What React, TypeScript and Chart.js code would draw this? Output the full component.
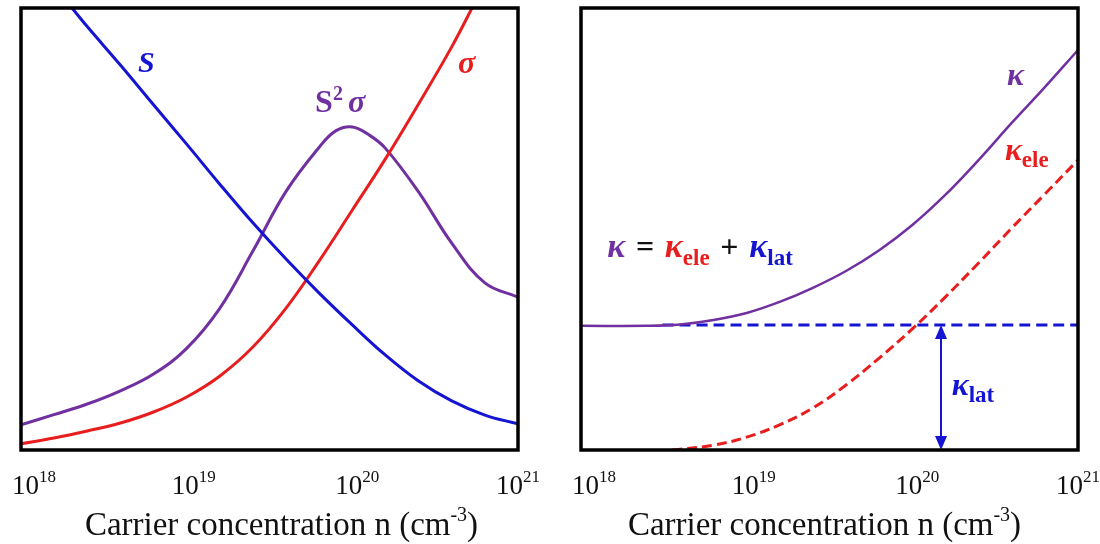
import React, { useEffect, useRef } from "react";
import { Chart, registerables } from "chart.js";
Chart.register(...registerables);

// ---------- Data (x = carrier concentration, y = arbitrary units 0..100) ----------
const seebeckN = [1.78e18, 2e18, 2.51e18, 3.98e18, 6.31e18, 1e19, 1.58e19, 2.51e19, 3.98e19, 6.31e19, 1e20, 1.58e20, 2.51e20, 3.98e20, 6.31e20, 1e21];
const seebeckS = [102.5, 100.3, 95.8, 87.1, 78.1, 69.2, 60.2, 51.4, 43.2, 35.5, 28.3, 21.5, 15.6, 11.1, 7.9, 5.9];

const sigmaN = [1e18, 1.58e18, 2.51e18, 3.98e18, 6.31e18, 1e19, 1.58e19, 2.51e19, 3.98e19, 6.31e19, 1e20, 1.58e20, 2.51e20, 3.98e20, 5.62e20];
const sigmaVal = [1.4, 2.7, 4.3, 6.1, 8.6, 12.0, 16.7, 23.3, 32.1, 42.8, 54.3, 65.8, 78.3, 91.2, 102.0];

const pfN = [1e18, 1.58e18, 2.51e18, 3.98e18, 6.31e18, 1e19, 1.58e19, 2.51e19, 3.98e19, 6.31e19, 7.94e19, 1e20, 1.26e20, 1.58e20, 2.51e20, 3.98e20, 6.31e20, 1e21];
const pfVal = [5.7, 8.0, 10.4, 13.4, 17.2, 23.0, 32.0, 45.0, 58.5, 68.5, 72.2, 73.1, 71.3, 68.3, 58.4, 46.8, 37.8, 34.6];

const kappaN = [1e18, 2.51e18, 3.98e18, 6.31e18, 1e19, 1.58e19, 2.51e19, 3.98e19, 6.31e19, 1e20, 1.58e20, 2.51e20, 3.98e20, 6.31e20, 1e21];
const kappaVal = [28.1, 28.1, 28.4, 29.4, 31.0, 33.5, 36.7, 40.5, 45.2, 50.9, 57.7, 65.6, 74.0, 82.1, 90.5];

const kappaEleN = [3.55e18, 3.98e18, 6.31e18, 1e19, 1.58e19, 2.51e19, 3.98e19, 6.31e19, 1e20, 1.58e20, 2.51e20, 3.98e20, 6.31e20, 1e21];
const kappaEleVal = [0, 0.2, 1.1, 2.9, 5.7, 9.5, 14.7, 20.8, 27.4, 34.6, 42.3, 50.2, 57.9, 65.6];

const kappaLatN = [3.1e18, 1e21];
const kappaLatVal = [28.3, 28.3];

const arrowN = 1.49e20;
const arrowFrom = 28.3;
const arrowTo = 0;

const tickValues = [1e18, 1e19, 1e20, 1e21];
const tickExponents = ["18", "19", "20", "21"];
const axisTitleMain = "Carrier concentration n (cm";
const axisTitleSup = "-3";
const axisTitleEnd = ")";

// ---------- Styles ----------
const PURPLE = "#7030a0";
const RED = "#e81e1e";
const BLUE = "#1414d2";
const BLACK = "#111111";

const GREEK = "italic bold 32px 'Liberation Serif'";
const GREEK_EQ = "italic bold 34px 'Liberation Serif'";
const BOLD = "bold 32px 'Liberation Serif'";
const SUB = "bold 23px 'Liberation Serif'";
const SUP = "bold 20px 'Liberation Serif'";

type Seg = { t: string; c: string; f: string; dy?: number };
type Label = { n: number; v: number; segs: Seg[] };

const leftLabels: Label[] = [
  { n: 5.08e18, v: 85.5, segs: [{ t: "S", c: BLUE, f: "italic bold 30px 'Liberation Serif'" }] },
  {
    n: 5.96e19, v: 76.5, segs: [
      { t: "S", c: PURPLE, f: BOLD },
      { t: "2", c: PURPLE, f: SUP, dy: -12 },
      { t: " ", c: PURPLE, f: SUP },
      { t: "\u03c3", c: PURPLE, f: GREEK },
    ]
  },
  { n: 4.35e20, v: 85.3, segs: [{ t: "\u03c3", c: RED, f: GREEK }] },
];

const rightLabels: Label[] = [
  { n: 3.73e20, v: 82.6, segs: [{ t: "\u03ba", c: PURPLE, f: GREEK }] },
  { n: 3.62e20, v: 65.6, segs: [{ t: "\u03ba", c: RED, f: GREEK }, { t: "ele", c: RED, f: SUB, dy: 7 }] },
  { n: 1.73e20, v: 12.4, segs: [{ t: "\u03ba", c: BLUE, f: GREEK }, { t: "lat", c: BLUE, f: SUB, dy: 7 }] },
  {
    n: 1.44e18, v: 43.7, segs: [
      { t: "\u03ba", c: PURPLE, f: GREEK_EQ },
      { t: "\u2004=\u2004", c: BLACK, f: BOLD },
      { t: "\u03ba", c: RED, f: GREEK_EQ },
      { t: "ele", c: RED, f: SUB, dy: 8 },
      { t: "\u2004+\u2004", c: BLACK, f: BOLD },
      { t: "\u03ba", c: BLUE, f: GREEK_EQ },
      { t: "lat", c: BLUE, f: SUB, dy: 8 },
    ]
  },
];

const tickShift = [13, 7, 5, 0];

function pts(xs: number[], ys: number[]) {
  return xs.map((x, i) => ({ x, y: ys[i] }));
}

function drawSegs(ctx: CanvasRenderingContext2D, segs: Seg[], x: number, y: number) {
  let cx = x;
  for (const s of segs) {
    ctx.font = s.f;
    ctx.fillStyle = s.c;
    ctx.fillText(s.t, cx, y + (s.dy || 0));
    cx += ctx.measureText(s.t).width;
  }
}

function makePlugin(labels: Label[], titleShift: number, arrow: boolean) {
  return {
    id: "panelDecor",
    afterDatasetsDraw(chart: any) {
      const { ctx, chartArea: a } = chart;
      const xs = chart.scales.x;
      const ys = chart.scales.y;
      ctx.save();
      ctx.textBaseline = "alphabetic";
      ctx.textAlign = "left";

      if (arrow) {
        const ax = xs.getPixelForValue(arrowN);
        const y1 = ys.getPixelForValue(arrowFrom);
        const y2 = ys.getPixelForValue(arrowTo);
        ctx.strokeStyle = BLUE;
        ctx.fillStyle = BLUE;
        ctx.lineWidth = 2;
        ctx.beginPath();
        ctx.moveTo(ax, y1 + 10);
        ctx.lineTo(ax, y2 - 10);
        ctx.stroke();
        ctx.beginPath();
        ctx.moveTo(ax, y1);
        ctx.lineTo(ax - 6, y1 + 14);
        ctx.lineTo(ax + 6, y1 + 14);
        ctx.closePath();
        ctx.fill();
        ctx.beginPath();
        ctx.moveTo(ax, y2);
        ctx.lineTo(ax - 6, y2 - 14);
        ctx.lineTo(ax + 6, y2 - 14);
        ctx.closePath();
        ctx.fill();
      }

      for (const l of labels) {
        drawSegs(ctx, l.segs, xs.getPixelForValue(l.n), ys.getPixelForValue(l.v));
      }

      // frame
      ctx.strokeStyle = "#000";
      ctx.lineWidth = 3.5;
      ctx.strokeRect(a.left, a.top, a.right - a.left, a.bottom - a.top);

      // tick labels
      const mainF = "27px 'Liberation Serif'";
      const supF = "17px 'Liberation Serif'";
      tickValues.forEach((tv, i) => {
        ctx.font = mainF;
        const w1 = ctx.measureText("10").width;
        ctx.font = supF;
        const w2 = ctx.measureText(tickExponents[i]).width;
        const cx = xs.getPixelForValue(tv) + tickShift[i];
        const left = cx - (w1 + w2) / 2;
        ctx.fillStyle = "#111";
        ctx.font = mainF;
        ctx.fillText("10", left, a.bottom + 44);
        ctx.font = supF;
        ctx.fillText(tickExponents[i], left + w1, a.bottom + 32);
      });

      // axis title
      const tF = "33px 'Liberation Serif'";
      const tS = "20px 'Liberation Serif'";
      ctx.font = tF;
      const wa = ctx.measureText(axisTitleMain).width;
      const wc = ctx.measureText(axisTitleEnd).width;
      ctx.font = tS;
      const wb = ctx.measureText(axisTitleSup).width;
      const tcx = (a.left + a.right) / 2 + titleShift;
      const tl = tcx - (wa + wb + wc) / 2;
      const ty = a.bottom + 85;
      ctx.fillStyle = "#111";
      ctx.font = tF;
      ctx.fillText(axisTitleMain, tl, ty);
      ctx.font = tS;
      ctx.fillText(axisTitleSup, tl + wa, ty - 14);
      ctx.font = tF;
      ctx.fillText(axisTitleEnd, tl + wa + wb, ty);

      ctx.restore();
    },
  };
}

function baseOptions(padLeft: number, padRight: number) {
  return {
    responsive: false,
    animation: false as const,
    devicePixelRatio: 1,
    layout: { padding: { left: padLeft, right: padRight, top: 8, bottom: 94 } },
    plugins: { legend: { display: false }, tooltip: { enabled: false } },
    elements: { point: { radius: 0 }, line: { tension: 0.4 } },
    scales: {
      x: { type: "logarithmic" as const, min: 1e18, max: 1e21, display: false },
      y: { type: "linear" as const, min: 0, max: 100, display: false },
    },
  };
}

function Panel({ which }: { which: "left" | "right" }) {
  const ref = useRef<HTMLCanvasElement | null>(null);
  useEffect(() => {
    if (!ref.current) return;
    let chart: Chart;
    if (which === "left") {
      chart = new Chart(ref.current, {
        type: "line",
        data: {
          datasets: [
            { label: "S", data: pts(seebeckN, seebeckS), borderColor: BLUE, borderWidth: 3, fill: false },
            { label: "sigma", data: pts(sigmaN, sigmaVal), borderColor: RED, borderWidth: 3, fill: false },
            { label: "S2sigma", data: pts(pfN, pfVal), borderColor: PURPLE, borderWidth: 3, fill: false },
          ],
        },
        options: baseOptions(21, 32) as any,
        plugins: [makePlugin(leftLabels, 12, false)],
      });
    } else {
      chart = new Chart(ref.current, {
        type: "line",
        data: {
          datasets: [
            { label: "kappa", data: pts(kappaN, kappaVal), borderColor: PURPLE, borderWidth: 2.5, fill: false },
            { label: "kappa_ele", data: pts(kappaEleN, kappaEleVal), borderColor: RED, borderWidth: 3, borderDash: [10, 5], fill: false },
            { label: "kappa_lat", data: pts(kappaLatN, kappaLatVal), borderColor: BLUE, borderWidth: 3, borderDash: [11, 6], fill: false },
          ],
        },
        options: baseOptions(31, 22) as any,
        plugins: [makePlugin(rightLabels, -5, true)],
      });
    }
    return () => chart.destroy();
  }, [which]);
  return <canvas ref={ref} width={550} height={544} style={{ display: "block", width: 550, height: 544 }} />;
}

export default function App() {
  return (
    <div style={{ position: "fixed", left: 0, top: 0, width: 1100, height: 544, background: "#fff", display: "flex" }}>
      <Panel which="left" />
      <Panel which="right" />
    </div>
  );
}
